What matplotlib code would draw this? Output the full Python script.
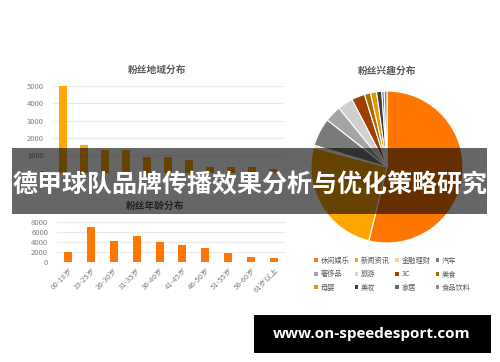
import matplotlib

matplotlib.use("Agg")
import matplotlib.pyplot as plt
import matplotlib.patches as mpatches
import numpy as np

plt.rcParams["font.family"] = ["Noto Sans CJK SC", "DejaVu Sans"]

# ---------------------------------------------------------------------------
# data
# ---------------------------------------------------------------------------
region_values = [5000, 1600, 1300, 1300, 900, 900, 700, 300, 300, 300, 200]
region_ticks = [0, 1000, 2000, 3000, 4000, 5000]

age_labels = ["00-18岁", "19-25岁", "26-30岁", "31-35岁", "36-40岁",
              "41-45岁", "46-50岁", "51-55岁", "56-60岁", "61岁以上"]
age_values = [2000, 7100, 4200, 5300, 4000, 3400, 2800, 1900, 1000, 800]
age_ticks = [0, 2000, 4000, 6000, 8000]

interest_labels = ["休闲娱乐", "新闻资讯", "金融理财", "汽车", "奢侈品", "旅游",
                   "3C", "美食", "母婴", "美妆", "家居", "食品饮料"]
interest_values = [53.9, 25.3, 0.5, 6.0, 3.5, 3.3, 2.8, 1.3, 1.3, 1.1, 0.5, 0.6]
interest_colors = ["#FF7700", "#FFA500", "#FFD27F", "#7A7A7A", "#A5A5A5",
                   "#D0D0D0", "#A04000", "#A86E00", "#E39A00", "#404040",
                   "#666666", "#8A8A8A"]

title_text = "德甲球队品牌传播效果分析与优化策略研究"
site_text = "www.on-speedesport.com"

W, H = 500, 362
TXT = "#595959"
TICK = "#7F7F7F"
GRID = "#EBEBEB"


def fig_rect(x0, y0, x1, y1):
    """pixel box (top-left origin) -> figure fraction rect"""
    return [x0 / W, 1 - y1 / H, (x1 - x0) / W, (y1 - y0) / H]


def style_bar_axes(ax, ticks):
    for s in ax.spines.values():
        s.set_visible(False)
    ax.set_yticks(ticks)
    ax.tick_params(axis="y", length=0, labelsize=5.5, labelcolor=TICK, pad=6)
    ax.tick_params(axis="x", length=0)
    ax.yaxis.grid(True, color=GRID, linewidth=0.8)
    ax.set_axisbelow(True)


fig = plt.figure(figsize=(5, 3.62), dpi=100)

# -- region bars -------------------------------------------------------------
ax1 = fig.add_axes(fig_rect(52.5, 86, 283.5, 172.5))
x1 = np.arange(len(region_values))
ax1.bar(x1, region_values, width=0.34, color="#FFA800")
ax1.set_xlim(-0.5, len(region_values) - 0.5)
ax1.set_ylim(0, 5000)
ax1.set_xticks([])
style_bar_axes(ax1, region_ticks)
fig.text(157 / W, 1 - 70 / H, "粉丝地域分布", ha="center", va="center",
         fontsize=7, fontweight="bold", color=TXT)

# -- age bars ----------------------------------------------------------------
ax2 = fig.add_axes(fig_rect(56.5, 222, 285.5, 262))
x2 = np.arange(len(age_values))
ax2.bar(x2, age_values, width=0.35, color="#FF7700")
ax2.set_xlim(-0.5, len(age_values) - 0.5)
ax2.set_ylim(0, 8000)
style_bar_axes(ax2, age_ticks)
ax2.set_xticks(x2)
ax2.set_xticklabels(age_labels, rotation=45, ha="right", va="top",
                    rotation_mode="anchor", fontsize=5.5, color=TICK)
ax2.tick_params(axis="x", pad=3)
fig.text(155 / W, 1 - 206 / H, "粉丝年龄分布", ha="center", va="center",
         fontsize=7, fontweight="bold", color=TXT)

# -- interest pie ------------------------------------------------------------
cx, cy, r = 387, 167, 76
ax3 = fig.add_axes(fig_rect(cx - r, cy - r, cx + r, cy + r))
wedges, _ = ax3.pie(interest_values, colors=interest_colors, startangle=90,
                    counterclock=False,
                    wedgeprops=dict(edgecolor="white", linewidth=0.8))
ax3.set_xlim(-1, 1)
ax3.set_ylim(-1, 1)
ax3.set_aspect("equal")
fig.text(387 / W, 1 - 71 / H, "粉丝兴趣分布", ha="center", va="center",
         fontsize=7, fontweight="bold", color=TXT)

# legend fills column-wise, so reorder to read row by row
order = [0, 4, 8, 1, 5, 9, 2, 6, 10, 3, 7, 11]
leg = fig.legend([wedges[i] for i in order], [interest_labels[i] for i in order],
                 ncol=4, loc="upper left", bbox_to_anchor=(314 / W, 1 - 257 / H),
                 frameon=False, fontsize=5.2, handlelength=0.5, handleheight=0.5,
                 handletextpad=0.4, columnspacing=0.7, labelspacing=0.75,
                 borderpad=0, borderaxespad=0)
for t in leg.get_texts():
    t.set_color(TXT)
for h in leg.legend_handles:
    h.set_edgecolor("none")

# -- banner ------------------------------------------------------------------
banner = mpatches.Rectangle((12 / W, 1 - 214 / H), 475 / W, 66 / H,
                            transform=fig.transFigure, facecolor="black",
                            alpha=0.6, edgecolor="none", zorder=10)
fig.add_artist(banner)
fig.text(250 / W, 1 - 185 / H, title_text, ha="center", va="center",
         fontsize=18, fontweight="bold", color="white", zorder=11)

# -- site tag ----------------------------------------------------------------
tag = mpatches.Rectangle((254 / W, 1 - 353 / H), 237 / W, 38 / H,
                         transform=fig.transFigure, facecolor="black",
                         edgecolor="none", zorder=10)
fig.add_artist(tag)
fig.text(372 / W, 1 - 334 / H, site_text, ha="center", va="center",
         fontsize=11, fontweight="bold", color="white", zorder=11,
         family="Open Sans")

fig.savefig("out.png", dpi=100)
